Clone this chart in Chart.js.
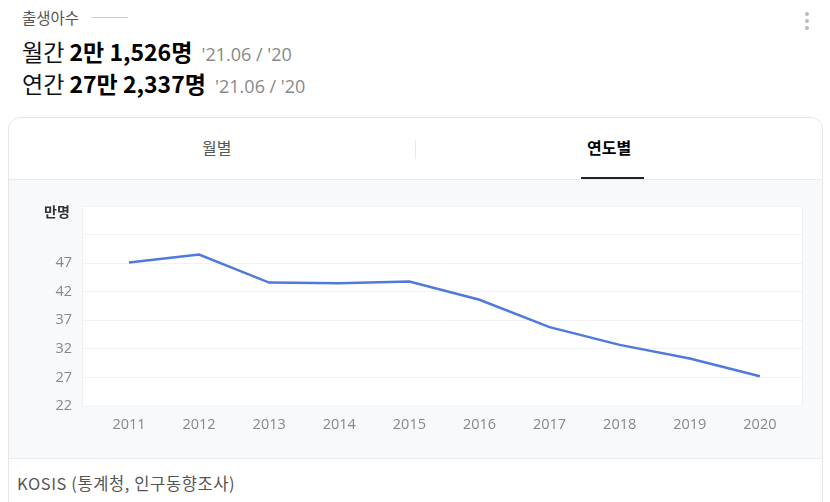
<!DOCTYPE html>
<html><head><meta charset="utf-8">
<script src="https://cdn.jsdelivr.net/npm/chart.js@4"></script>
<style>
html,body{margin:0;padding:0;width:830px;height:502px;overflow:hidden;background:#fff;font-family:"Noto Sans CJK KR","Noto Sans",sans-serif;}
.abs{position:absolute;white-space:nowrap;}
#t1{left:22px;top:6px;font-size:15.5px;color:#555;}
#t1line{left:91px;top:17px;width:37px;height:1px;background:#ccc;}
.dot{position:absolute;left:805px;width:4px;height:4px;border-radius:2px;background:#bbb;}
.big{font-size:23px;color:#111;left:22px;}
.big b{font-weight:700;color:#000;}
.big span{font-size:18px;color:#888;margin-left:4px;font-family:"Open Sans","Noto Sans",sans-serif;}
#card{position:absolute;left:8px;top:117px;width:813px;height:400px;border:1px solid #e6e6e6;border-radius:12px;overflow:hidden;background:#fff;}
#chartbg{position:absolute;left:0;top:61px;width:813px;height:278px;background:#f8f9fb;border-top:1px solid #ececec;border-bottom:1px solid #ececec;}
#tab1{left:202px;top:135px;font-size:16px;color:#555;}
#tab2{left:587px;top:135px;font-size:16px;color:#000;font-weight:700;}
#tabdiv{left:415px;top:140px;width:1px;height:19px;background:#e8e8e8;}
#tabline{left:581px;top:177px;width:63px;height:2px;background:#222;}
#unit{left:44px;top:201px;font-size:14px;font-weight:700;color:#333;}
#src{left:17px;top:471px;font-size:16.5px;color:#555;letter-spacing:0.6px;}
#wrap{position:absolute;left:0;top:179px;width:830px;height:277px;}
</style></head><body>
<div class="abs" id="t1">출생아수</div><div class="abs" id="t1line"></div>
<div class="dot" style="top:12px"></div><div class="dot" style="top:19px"></div><div class="dot" style="top:26px"></div>
<div class="abs big" style="top:34px">월간 <b>2만 1,526명</b> <span>'21.06 / '20</span></div>
<div class="abs big" style="top:66px">연간 <b>27만 2,337명</b> <span>'21.06 / '20</span></div>
<div id="card"><div id="chartbg"></div></div>
<div class="abs" id="tab1">월별</div>
<div class="abs" id="tabdiv"></div>
<div class="abs" id="tab2">연도별</div>
<div class="abs" id="tabline"></div>
<div class="abs" id="src">KOSIS (통계청, 인구동향조사)</div>
<div id="wrap"><canvas id="c" width="830" height="277"></canvas></div>
<div class="abs" id="unit">만명</div>
<script>
const years = [2011, 2012, 2013, 2014, 2015, 2016, 2017, 2018, 2019, 2020];
const births = [47.1, 48.5, 43.6, 43.5, 43.8, 40.6, 35.8, 32.7, 30.3, 27.2];
const yTicks = [22, 27, 32, 37, 42, 47];

const plotBg = {
  id: 'plotBg',
  beforeDraw(chart) {
    const {ctx, chartArea: a} = chart;
    ctx.save();
    ctx.fillStyle = '#fff';
    ctx.fillRect(a.left, a.top, a.right - a.left, a.bottom - a.top);
    ctx.strokeStyle = '#eceef1';
    ctx.lineWidth = 1;
    ctx.strokeRect(a.left + 0.5, a.top + 0.5, a.right - a.left - 1, a.bottom - a.top);
    ctx.restore();
  }
};

new Chart(document.getElementById('c'), {
  type: 'line',
  data: {
    datasets: [{
      data: years.map((y, i) => ({x: y, y: births[i]})),
      borderColor: '#4f79dc',
      borderWidth: 2.5,
      pointRadius: 0,
      tension: 0,
      fill: false
    }]
  },
  options: {
    responsive: false,
    animation: false,
    layout: {padding: {left: 0, right: 27, top: 27, bottom: 0}},
    plugins: {legend: {display: false}, tooltip: {enabled: false}},
    scales: {
      x: {
        type: 'linear',
        min: 2010.33,
        max: 2020.615,
        afterBuildTicks(s) { s.ticks = years.map(v => ({value: v})); },
        afterFit(s) { s.height = 50; },
        grid: {display: false, drawTicks: false},
        border: {display: false},
        ticks: {color: '#888', padding: 10, font: {size: 14.5, family: '"Open Sans","Noto Sans",sans-serif'}, callback: v => String(v), autoSkip: false, maxRotation: 0}
      },
      y: {
        min: 22,
        max: 57,
        afterBuildTicks(s) { s.ticks = [22,27,32,37,42,47,52,57].map(v => ({value: v})); },
        afterFit(s) { s.width = 82; },
        grid: {color: '#f1f2f4', drawTicks: false, lineWidth: 1},
        border: {display: false},
        ticks: {color: '#888', padding: 10, font: {size: 14.5, family: '"Open Sans","Noto Sans",sans-serif'}, callback: v => yTicks.includes(v) ? String(v) : ''}
      }
    }
  },
  plugins: [plotBg]
});
</script>
</body></html>
